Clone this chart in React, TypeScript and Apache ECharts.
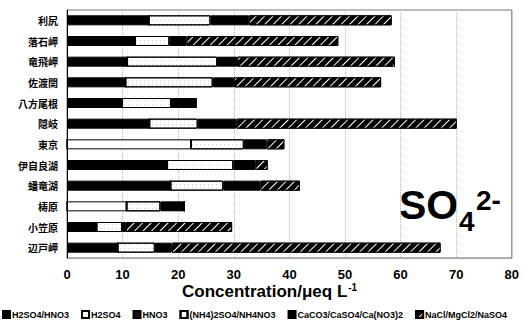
import React, { useEffect, useRef } from 'react';
import * as echarts from 'echarts';

const categories = ['利尻', '落石岬', '竜飛岬', '佐渡関', '八方尾根', '隠岐', '東京', '伊自良湖', '蟠竜湖', '梼原', '小笠原', '辺戸岬'];
const seriesNames = ['H2SO4/HNO3', 'H2SO4', 'HNO3', '(NH4)2SO4/NH4NO3', 'CaCO3/CaSO4/Ca(NO3)2', 'NaCl/MgCl2/NaSO4'];
const h2so4Hno3 = [14.7, 12.2, 10.8, 10.5, 9.9, 14.8, 0, 18.0, 18.6, 0, 5.3, 9.1];
const h2so4 = [0, 0, 0, 0, 0, 0, 22.3, 0, 0, 10.7, 0, 0];
const hno3 = [0, 0, 0, 0, 0, 0, 0, 0, 0, 0, 0, 0];
const nh4 = [11.1, 6.2, 16.2, 15.7, 8.8, 8.7, 9.5, 11.9, 9.5, 6.1, 4.6, 6.7];
const caSalts = [6.9, 3.1, 3.6, 3.8, 4.5, 7.0, 4.1, 4.0, 6.7, 4.3, 0.7, 3.0];
const naSalts = [25.7, 27.3, 28.4, 26.5, 0, 39.6, 3.2, 2.2, 7.1, 0, 19.1, 48.4];
const xTicks = { min: 0, max: 80, interval: 10 };

export default function App() {
  const ref = useRef<HTMLDivElement>(null);
  useEffect(() => {
    const chart = echarts.init(ref.current!, null, { renderer: 'svg' });
    const hatch = {
      symbol: 'rect', symbolSize: 1, rotation: -Math.PI / 4,
      dashArrayX: [1, 0], dashArrayY: [1, 4.5], color: '#ffffff', backgroundColor: '#000000',
    };
    const dots = {
      symbol: 'rect', symbolSize: 1,
      dashArrayX: [[1, 3]], dashArrayY: [1, 3], color: '#cccccc', backgroundColor: '#ffffff',
    };
    const data = [h2so4Hno3, h2so4, hno3, nh4, caSalts, naSalts];
    const styles: any[] = [
      { color: '#000' },
      { color: '#fff' },
      { color: '#111' },
      { color: '#fff', decal: dots },
      { color: '#000' },
      { color: '#000', decal: hatch },
    ];
    const series = seriesNames.map((name, i) => ({
      name, type: 'bar', stack: 'total', barWidth: 10,
      data: data[i],
      itemStyle: { ...styles[i], borderColor: '#000', borderWidth: 1 },
    }));
    chart.setOption({
      animation: false,
      aria: { decal: { show: false } },
      grid: { left: 67, right: 3, top: 10, bottom: 62, containLabel: false, show: true, borderColor: '#777', borderWidth: 1 },
      xAxis: {
        type: 'value', ...xTicks,
        axisLine: { show: true, lineStyle: { color: '#999', type: 'dotted' } },
        axisTick: { show: false },
        splitLine: { show: true, lineStyle: { color: '#bbb', type: 'dotted' } },
        axisLabel: { color: '#000', fontSize: 13, fontWeight: 'bold', fontFamily: 'Liberation Sans', margin: 10 },
      },
      yAxis: {
        type: 'category', data: categories, inverse: true,
        axisLine: { show: true, lineStyle: { color: '#000', width: 1 } },
        axisTick: { show: false },
        axisLabel: { color: '#000', fontSize: 10, fontWeight: 'bold', fontFamily: 'Noto Sans CJK JP', margin: 9 },
      },
      legend: {
        left: 2, bottom: 1, width: 900, padding: 0,
        itemWidth: 7, itemHeight: 7, itemGap: 12,
        icon: 'rect',
        textStyle: { fontSize: 9, fontWeight: 'bold', color: '#000', fontFamily: 'Liberation Sans', padding: [0, 0, 0, -3] },
        data: seriesNames,
      },
      graphic: [
        {
          type: 'text', left: 182, top: 282,
          style: {
            text: '{m|Concentration/μeq L}{s|-1}',
            rich: {
              m: { fontSize: 17, fontWeight: 'bold', fontFamily: 'Liberation Sans', fill: '#000' },
              s: { fontSize: 10, fontWeight: 'bold', fontFamily: 'Liberation Sans', fill: '#000', verticalAlign: 'top', padding: [0, 0, 8, 1] },
            },
          },
        },
        { type: 'text', left: 399, top: 184, style: { text: 'SO', fontSize: 41, fontWeight: 'bold', fontFamily: 'Liberation Sans', fill: '#000' } },
        { type: 'text', left: 459, top: 207, style: { text: '4', fontSize: 28, fontWeight: 'bold', fontFamily: 'Liberation Sans', fill: '#000' } },
        { type: 'text', left: 476, top: 186, style: { text: '2-', fontSize: 28, fontWeight: 'bold', fontFamily: 'Liberation Sans', fill: '#000' } },
      ],
      series,
    });
    return () => chart.dispose();
  }, []);
  return <div ref={ref} style={{ position: 'fixed', left: 0, top: 0, width: 522, height: 320, background: '#fff' }} />;
}
